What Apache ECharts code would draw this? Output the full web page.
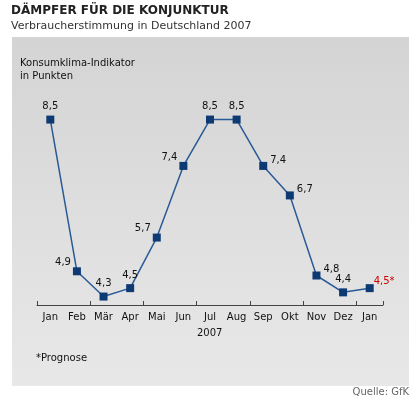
<!DOCTYPE html>
<html lang="de">
<head>
<meta charset="UTF-8">
<title>Konsumklima</title>
<script src="https://cdn.jsdelivr.net/npm/echarts@6/dist/echarts.min.js"></script>
<style>html,body{margin:0;padding:0;background:#fff;}</style>
</head>
<body>
<div id="chart" style="width:420px;height:399px"></div>
<script>
// Monate und Indexwerte (GfK Konsumklima)
var months = ['Jan', 'Feb', 'Mär', 'Apr', 'Mai', 'Jun', 'Jul', 'Aug', 'Sep', 'Okt', 'Nov', 'Dez', 'Jan'];
var values = [8.5, 4.9, 4.3, 4.5, 5.7, 7.4, 8.5, 8.5, 7.4, 6.7, 4.8, 4.4, 4.5];
// Beschriftungslage je Punkt
var labelPos = ['top', 'left', 'top', 'top', 'left', 'left', 'top', 'top', 'right', 'right', 'right', 'top', 'right'];

var font = 'DejaVu Sans';
var chart = echarts.init(document.getElementById('chart'));

var data = values.map(function (v, i) {
    var last = i === values.length - 1;
    var lab = {
        position: labelPos[i],
        formatter: String(v).replace('.', ',') + (last ? '*' : ''),
        color: last ? '#cc0000' : '#111'
    };
    if (labelPos[i] === 'left') lab.offset = [2, -9];
    if (labelPos[i] === 'right') lab.offset = [-1, -6];
    if (last) lab.offset = [-4, -7];
    return {value: v, label: lab};
});

var option = {
    animation: false,
    textStyle: {fontFamily: font},
    graphic: [
        {
            type: 'rect', z: -10,
            shape: {x: 12, y: 37, width: 397, height: 349},
            style: {
                fill: new echarts.graphic.LinearGradient(0, 0, 0, 1, [
                    {offset: 0, color: '#d4d4d4'},
                    {offset: 1, color: '#e8e8e8'}
                ])
            }
        },
        {type: 'text', left: 20, top: 57, style: {text: 'Konsumklima-Indikator\nin Punkten', font: '10px ' + font, fill: '#111', lineHeight: 13}},
        {type: 'text', left: 197, top: 328, style: {text: '2007', font: '10px ' + font, fill: '#111', textAlign: 'center'}},
        {type: 'text', left: 36, top: 353, style: {text: '*Prognose', font: '10px ' + font, fill: '#111'}},
        {type: 'text', right: 11, top: 387, style: {text: 'Quelle: GfK', font: '10px ' + font, fill: '#666'}}
    ],
    title: [
        {text: 'DÄMPFER FÜR DIE KONJUNKTUR', left: 11, top: 5, padding: 0,
         textStyle: {fontSize: 12, fontWeight: 'bold', color: '#222', fontFamily: font}},
        {text: 'Verbraucherstimmung in Deutschland 2007', left: 11, top: 21, padding: 0,
         textStyle: {fontSize: 11, fontWeight: 'normal', color: '#333', fontFamily: font}}
    ],
    grid: {left: 37, right: 37, top: 98.5, bottom: 94},
    xAxis: [
        {
            type: 'category', data: months, boundaryGap: true,
            axisLine: {lineStyle: {color: '#444', width: 1}},
            axisTick: {length: 4, lineStyle: {color: '#444'}},
            axisLabel: {color: '#111', fontSize: 10, margin: 7, interval: 0}
        },
        {
            type: 'category', data: months, boundaryGap: true, position: 'bottom', offset: 0,
            axisLine: {show: false},
            axisTick: {show: true, inside: true, length: 4, lineStyle: {color: '#444'}},
            axisLabel: {show: false}
        }
    ],
    yAxis: {
        type: 'value', min: 4.1, max: 9, show: false,
        splitLine: {show: false}
    },
    series: [{
        type: 'line',
        data: data,
        symbol: 'rect',
        symbolSize: 8,
        lineStyle: {color: '#2a5a96', width: 1.5},
        itemStyle: {color: '#0d3a72'},
        label: {show: true, fontSize: 10, fontFamily: font, distance: 4}
    }]
};

chart.setOption(option);
</script>
</body>
</html>
